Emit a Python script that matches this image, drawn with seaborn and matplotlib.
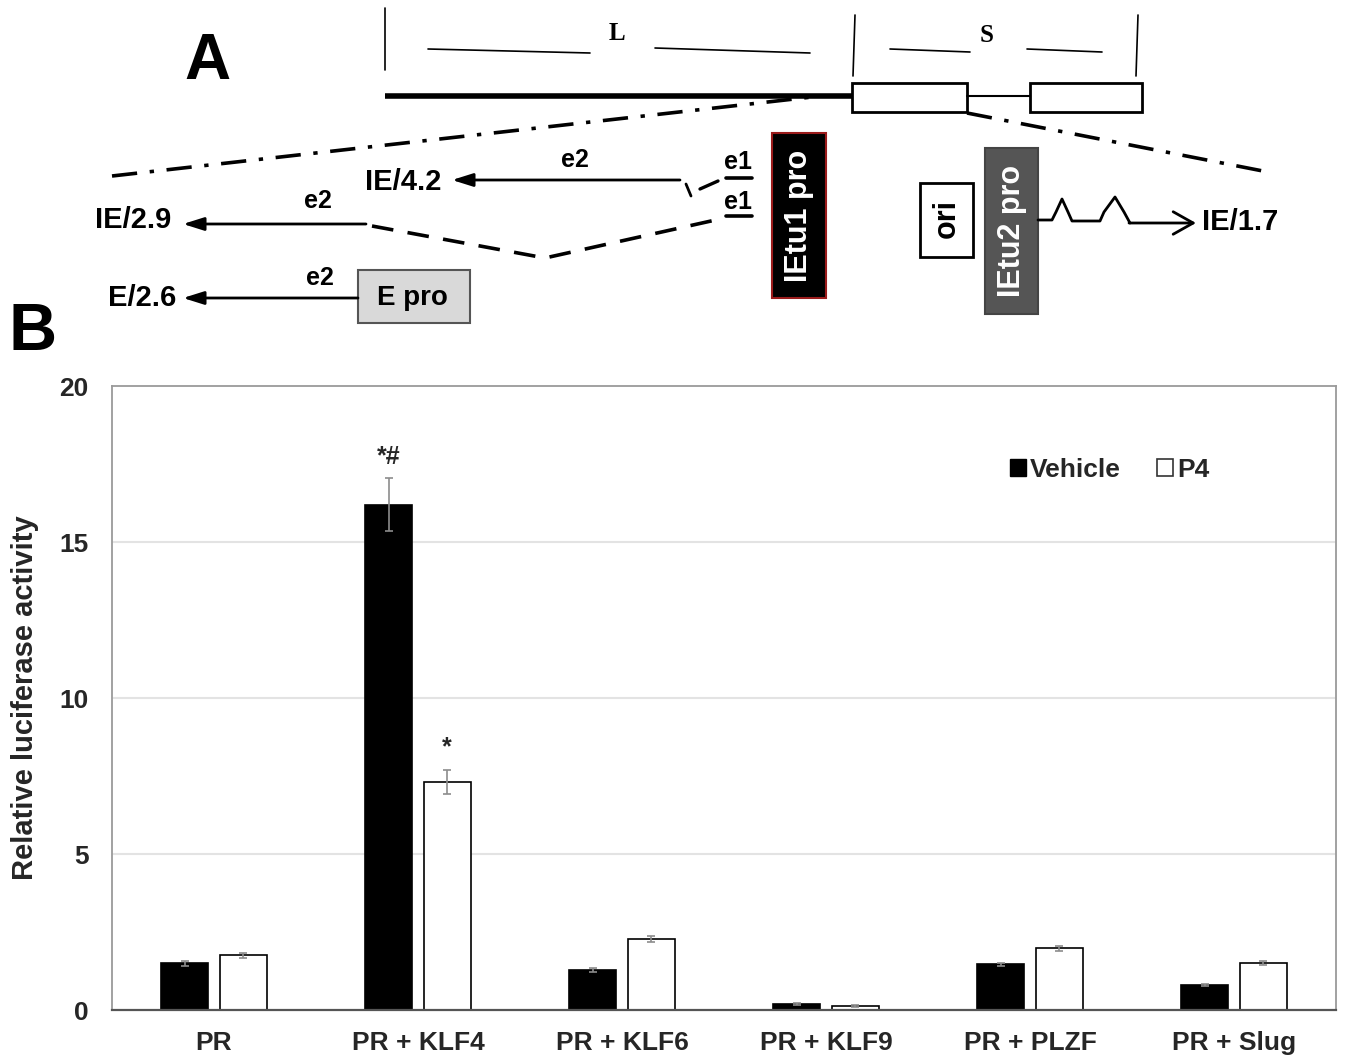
import numpy as np
import pandas as pd
import matplotlib
matplotlib.use('Agg')
import matplotlib.pyplot as plt
import seaborn as sns
from matplotlib.patches import Rectangle, Patch

# ---- data (panel B) ----
groups = ['PR', 'PR + KLF4', 'PR + KLF6', 'PR + KLF9', 'PR + PLZF', 'PR + Slug']
treatments = ['Vehicle', 'P4']
vehicle_mean = [1.50, 16.2, 1.28, 0.20, 1.47, 0.80]
vehicle_err = [0.08, 0.85, 0.06, 0.03, 0.05, 0.04]
p4_mean = [1.76, 7.30, 2.27, 0.12, 1.98, 1.50]
p4_err = [0.08, 0.38, 0.10, 0.03, 0.08, 0.06]
yticks = [0, 5, 10, 15, 20]

df = pd.DataFrame({
    'group': groups * 2,
    'treatment': ['Vehicle'] * len(groups) + ['P4'] * len(groups),
    'value': vehicle_mean + p4_mean,
})

sns.set_theme(style='white')
plt.rcParams['font.family'] = ['Liberation Sans', 'DejaVu Sans']

fig = plt.figure(figsize=(13.45, 10.59), dpi=100)

# ---- panel A: schematic, drawn in pixel coordinates ----
axa = fig.add_axes([0, 0, 1, 1])
axa.set_xlim(0, 1345)
axa.set_ylim(1059, 0)
axa.axis('off')

bold = dict(fontweight='bold', color='black')

def arrow(x0, y0, x1, y1, style='-|>,head_length=0.7,head_width=0.22', lw=2):
    axa.annotate('', xy=(x1, y1), xytext=(x0, y0),
                 arrowprops=dict(arrowstyle=style, lw=lw, color='black',
                                 mutation_scale=18, shrinkA=0, shrinkB=0))

axa.text(207, 62, 'A', fontsize=46, ha='center', va='center', **bold)
axa.text(33, 333, 'B', fontsize=48, ha='center', va='center', **bold)

# genome map with L / S segments
for x0, y0, x1, y1 in [(385, 8, 385, 70), (855, 15, 853, 76), (1138, 15, 1136, 76),
                       (428, 49, 590, 53), (655, 48, 810, 53),
                       (890, 49, 970, 52), (1027, 49, 1102, 52)]:
    axa.plot([x0, x1], [y0, y1], color='black', lw=1.2)
axa.text(617, 33, 'L', fontsize=18, ha='center', va='center',
         family='Liberation Serif', **bold)
axa.text(987, 35, 'S', fontsize=18, ha='center', va='center',
         family='Liberation Serif', **bold)
axa.plot([385, 852], [96, 96], color='black', lw=4, solid_capstyle='butt')
axa.add_patch(Rectangle((852, 83), 115, 29, fc='white', ec='black', lw=2))
axa.plot([967, 1030], [96, 96], color='black', lw=1.5)
axa.add_patch(Rectangle((1030, 83), 112, 29, fc='white', ec='black', lw=2))

# expanded region (dash-dot)
dd = (0, (7, 3.5, 1.2, 3.5))
axa.plot([112, 812], [176, 97], color='black', lw=2.6, linestyle=dd)
axa.plot([967, 1268], [113, 172], color='black', lw=2.6, linestyle=dd)

# IE/4.2
axa.text(403, 182, 'IE/4.2', fontsize=21, ha='center', va='center', **bold)
arrow(680, 180, 452, 180)
axa.text(575, 160, 'e2', fontsize=18, ha='center', va='center', **bold)
axa.plot([686, 691], [184, 196], color='black', lw=2)
axa.plot([700, 718], [189, 181], color='black', lw=2.4)
axa.plot([726, 752], [178, 178], color='black', lw=2.6)
axa.text(738, 162, 'e1', fontsize=18, ha='center', va='center', **bold)

# IE/2.9
axa.text(133, 220, 'IE/2.9', fontsize=21, ha='center', va='center', **bold)
arrow(366, 224, 183, 224)
axa.text(318, 201, 'e2', fontsize=18, ha='center', va='center', **bold)
axa.plot([372, 545, 720], [226, 258, 219], color='black', lw=2.6,
         linestyle=(0, (6, 4)))
axa.plot([726, 752], [216, 216], color='black', lw=2.6)
axa.text(738, 202, 'e1', fontsize=18, ha='center', va='center', **bold)

# E/2.6
axa.text(142, 298, 'E/2.6', fontsize=21, ha='center', va='center', **bold)
arrow(358, 298, 183, 298)
axa.text(320, 278, 'e2', fontsize=18, ha='center', va='center', **bold)
axa.add_patch(Rectangle((358, 270), 112, 53, fc='#d9d9d9', ec='#555555', lw=1.5))
axa.text(412, 298, 'E pro', fontsize=20, ha='center', va='center', **bold)

# promoter boxes
axa.add_patch(Rectangle((772, 133), 54, 165, fc='black', ec='#9a1b1b', lw=1.5))
axa.text(799, 216, 'IEtu1 pro', fontsize=22, rotation=90, ha='center', va='center',
         color='white', fontweight='bold')
axa.add_patch(Rectangle((920, 183), 53, 74, fc='white', ec='black', lw=2))
axa.text(947, 219, 'ori', fontsize=22, rotation=90, ha='center', va='center', **bold)
axa.add_patch(Rectangle((985, 148), 53, 166, fc='#555555', ec='#444444', lw=1.5))
axa.text(1012, 231, 'IEtu2 pro', fontsize=22, rotation=90, ha='center', va='center',
         color='white', fontweight='bold')

# IE/1.7 spliced transcript
axa.plot([1038, 1052, 1056, 1062, 1068, 1072, 1100, 1104, 1115, 1124, 1130],
         [220, 220, 212, 199, 212, 221, 221, 212, 197, 212, 223],
         color='black', lw=2)
arrow(1129, 223, 1196, 223, style='->,head_length=0.8,head_width=0.45', lw=2)
axa.text(1240, 222, 'IE/1.7', fontsize=21, ha='center', va='center', **bold)

# ---- panel B: bar chart ----
ax = fig.add_axes([112 / 1345, 1 - 1010 / 1059, 1224 / 1345, 624 / 1059])
sns.barplot(data=df, x='group', y='value', hue='treatment', order=groups,
            hue_order=treatments, palette={'Vehicle': 'black', 'P4': 'white'},
            errorbar=None, width=0.57, gap=0.19, edgecolor='black',
            linewidth=1.2, legend=False, ax=ax)

for cont, err in zip(ax.containers, [vehicle_err, p4_err]):
    xs = [p.get_x() + p.get_width() / 2 for p in cont.patches]
    hs = [p.get_height() for p in cont.patches]
    ax.errorbar(xs, hs, yerr=err, fmt='none', ecolor='#8c8c8c',
                elinewidth=1.2, capsize=3, capthick=1.2, zorder=5)

# significance marks
kv = ax.containers[0].patches[1]
kp = ax.containers[1].patches[1]
ax.text(kv.get_x() + kv.get_width() / 2, 17.35, '*#', fontsize=18,
        ha='center', va='bottom', fontweight='bold')
ax.text(kp.get_x() + kp.get_width() / 2, 8.05, '*', fontsize=18,
        ha='center', va='bottom', fontweight='bold')

ax.set_ylim(0, 20)
ax.set_xlim(-0.5, len(groups) - 0.5)
ax.set_yticks(yticks)
ax.set_yticklabels([str(t) for t in yticks], fontsize=19, fontweight='bold')
ax.set_xticks(range(len(groups)))
ax.set_xticklabels(groups, fontsize=19, fontweight='bold')
ax.tick_params(axis='both', length=0)
ax.tick_params(axis='y', pad=17)
ax.tick_params(axis='x', pad=15)
ax.set_xlabel('')
ax.set_ylabel('Relative luciferase activity', fontsize=21, fontweight='bold')
ax.yaxis.set_label_coords(-0.06, 0.5)

for y in yticks[1:-1]:
    ax.axhline(y, color='#e3e3e3', lw=1.5, zorder=0)
for side in ['left', 'top', 'right']:
    ax.spines[side].set_color('#9a9a9a')
    ax.spines[side].set_linewidth(1.3)
ax.spines['bottom'].set_color('#555555')
ax.spines['bottom'].set_linewidth(1.6)

handles = [Patch(fc='black', ec='black', lw=1), Patch(fc='white', ec='#333333', lw=1.2)]
ax.legend(handles, treatments, ncol=2, loc='center', bbox_to_anchor=(0.815, 0.866),
          frameon=False, handlelength=0.6, handleheight=0.6, handletextpad=0.15,
          columnspacing=1.4, prop={'size': 19, 'weight': 'bold'})

fig.savefig('out.png', dpi=100)
